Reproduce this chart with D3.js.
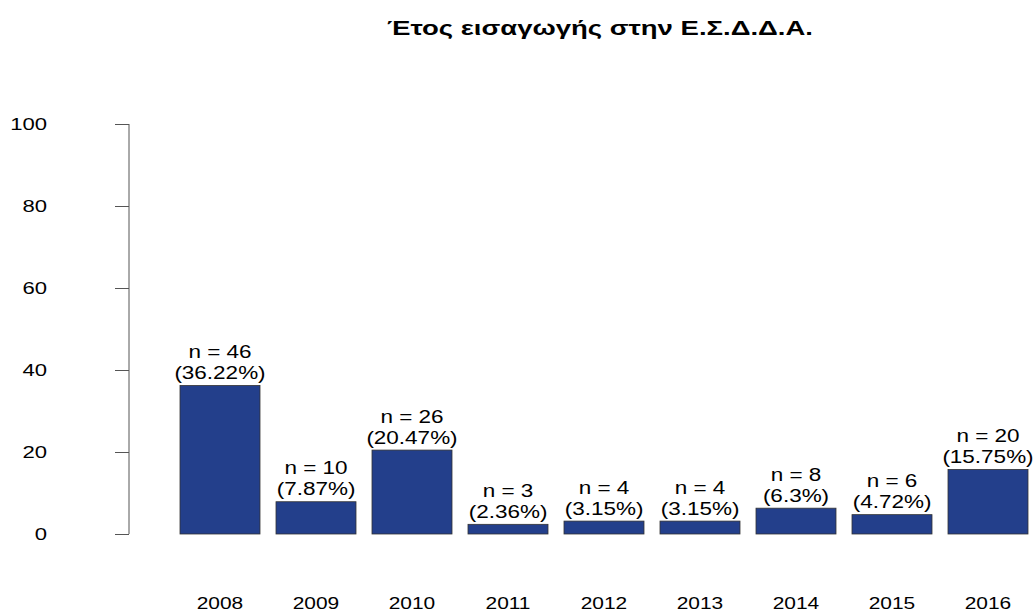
<!DOCTYPE html>
<html>
<head>
<meta charset="utf-8">
<script src="https://cdn.jsdelivr.net/npm/d3@7"></script>
<style>
  body { margin: 0; background: #fff; }
  text { font-family: "Liberation Sans", Arial, sans-serif; fill: #000; }
</style>
</head>
<body>
<div id="chart"></div>
<script>
// data
var years = ["2008","2009","2010","2011","2012","2013","2014","2015","2016"];
var counts = [46, 10, 26, 3, 4, 4, 8, 6, 20];
var percents = [36.22, 7.87, 20.47, 2.36, 3.15, 3.15, 6.3, 4.72, 15.75];
var yTicks = [0, 20, 40, 60, 80, 100];

var W = 1035, H = 613;
var plot = {left: 129, bot: 534, top: 124};
var barStart = 180, pitch = 96;

// the reference picture is stretched sideways, so the text is too
var stretch = 1.25;

var svg = d3.select("#chart").append("svg")
    .attr("width", W)
    .attr("height", H);

var x = d3.scaleBand()
    .domain(years)
    .range([barStart - 8, barStart - 8 + pitch * years.length])
    .paddingInner(16 / 96)
    .paddingOuter(8 / 96);

var y = d3.scaleLinear()
    .domain([0, 100])
    .range([plot.bot, plot.top]);

function wideText(g, tx, ty, s) {
    return g.append("text")
        .attr("transform", "translate(" + tx + "," + ty + ") scale(" + s + ",1)");
}

// title
wideText(svg, 600, 35, 1.31)
    .attr("text-anchor", "middle")
    .attr("font-size", 21)
    .attr("font-weight", "bold")
    .text("Έτος εισαγωγής στην Ε.Σ.Δ.Δ.Α.");

// y axis
var yAxis = d3.axisLeft(y).tickValues(yTicks).tickSize(14).tickFormat("");
var ga = svg.append("g")
    .attr("transform", "translate(" + plot.left + ",0)")
    .call(yAxis);
ga.select(".domain").attr("stroke", "#555").attr("d", "M0," + y(0) + "V" + y(100));
ga.selectAll(".tick line").attr("stroke", "#555");

yTicks.forEach(function(v) {
    wideText(svg, 47, y(v) + 5.5, 1.38)
        .attr("text-anchor", "end")
        .attr("font-size", 16)
        .text(v);
});

// bars
var rows = years.map(function(d, i) {
    return {year: d, n: counts[i], pct: percents[i]};
});

svg.selectAll("rect.bar")
    .data(rows)
    .enter().append("rect")
    .attr("class", "bar")
    .attr("x", function(d) { return x(d.year); })
    .attr("width", x.bandwidth())
    .attr("y", function(d) { return y(d.pct); })
    .attr("height", function(d) { return y(0) - y(d.pct); })
    .attr("fill", "#233f8b")
    .attr("stroke", "#333")
    .attr("stroke-width", 0.8);

// labels above bars
rows.forEach(function(d) {
    var cx = x(d.year) + x.bandwidth() / 2;
    wideText(svg, cx, y(d.pct) - 27.5, stretch)
        .attr("text-anchor", "middle")
        .attr("font-size", 18)
        .text("n = " + d.n);
    wideText(svg, cx, y(d.pct) - 6.5, stretch)
        .attr("text-anchor", "middle")
        .attr("font-size", 18)
        .text("(" + d.pct + "%)");
});

// year labels
years.forEach(function(d) {
    wideText(svg, x(d) + x.bandwidth() / 2, 609, 1.23)
        .attr("text-anchor", "middle")
        .attr("font-size", 17)
        .text(d);
});
</script>
</body>
</html>
